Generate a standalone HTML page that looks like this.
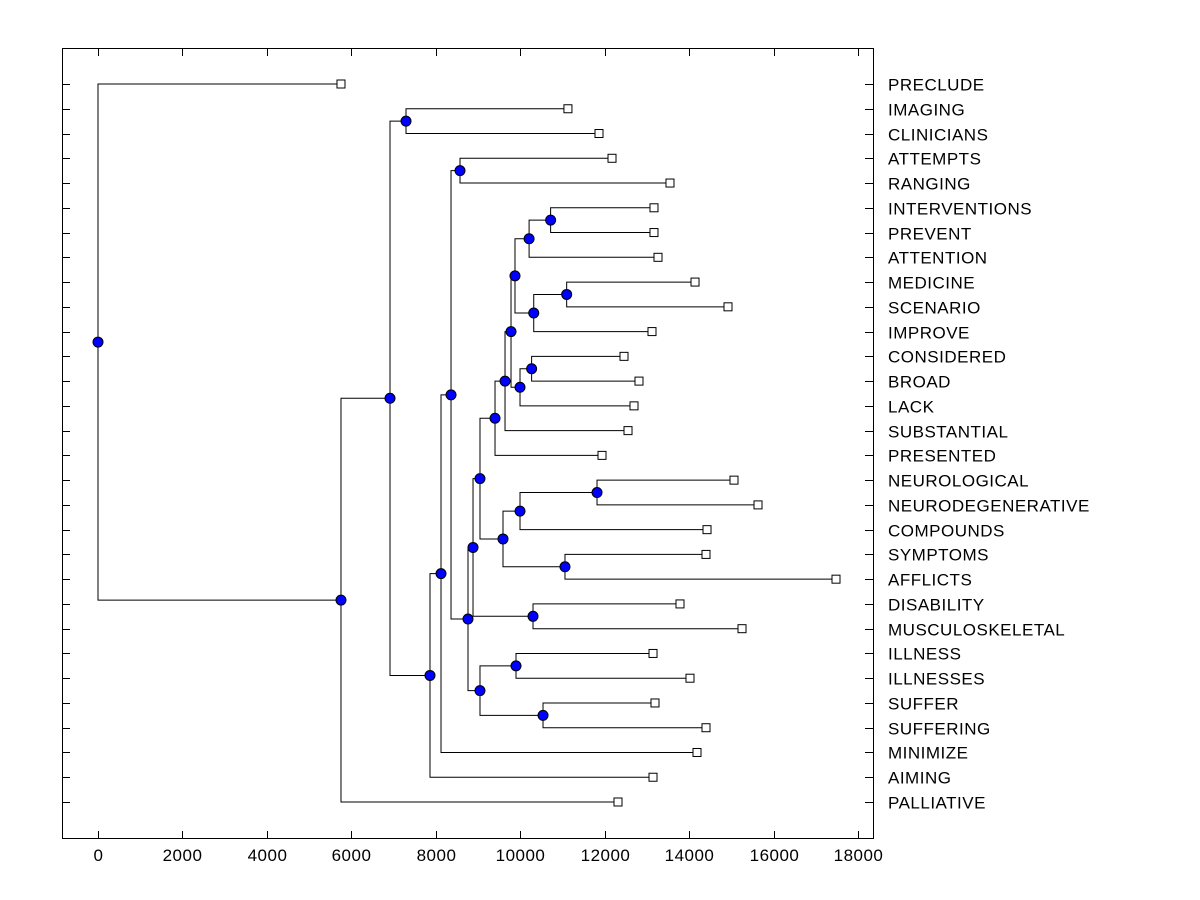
<!DOCTYPE html>
<html><head><meta charset="utf-8"><style>
html,body{margin:0;padding:0;background:#fff;}
svg{display:block;font-family:"Liberation Sans",Arial,sans-serif;}
</style></head><body>
<svg id="chart" width="1200" height="900" viewBox="0 0 1200 900">
<rect x="62.5" y="48.5" width="811" height="790" fill="none" stroke="#000" stroke-width="1"/>
<g id="ticks"></g><g id="links"></g><g id="marks"></g><g id="labels"></g>
</svg>
<script>
const leafNames = ["PRECLUDE","IMAGING","CLINICIANS","ATTEMPTS","RANGING","INTERVENTIONS","PREVENT","ATTENTION","MEDICINE","SCENARIO","IMPROVE","CONSIDERED","BROAD","LACK","SUBSTANTIAL","PRESENTED","NEUROLOGICAL","NEURODEGENERATIVE","COMPOUNDS","SYMPTOMS","AFFLICTS","DISABILITY","MUSCULOSKELETAL","ILLNESS","ILLNESSES","SUFFER","SUFFERING","MINIMIZE","AIMING","PALLIATIVE"];
const leafValues = [5755,11130,11866,12174,13547,13168,13168,13263,14140,14921,13121,12458,12813,12695,12553,11937,15063,15632,14424,14400,17479,13784,15253,13145,14021,13192,14400,14187,13145,12316];
// internal nodes: [id, height, childA, childB]; children are leaf indices (numbers) or node ids (strings)
const mergeNodes = [
 ["AA",10720,5,6],["W",10210,"AA",7],["Z",11100,8,9],["Y",10320,"Z",10],["V",9876,"W","Y"],
 ["BB",10270,11,12],["X",9995,"BB",13],["U",9782,"V","X"],["T",9640,"U",14],["O",9403,"T",15],
 ["S",11819,16,17],["Q",9995,"S",18],["R",11060,19,20],["P",9592,"Q","R"],["M",9047,"O","P"],
 ["N",10303,21,22],["I",8882,"M","N"],["K",9900,23,24],["L",10540,25,26],["J",9047,"K","L"],
 ["H",8763,"I","J"],["G",8574,3,4],["F",8361,"G","H"],["E",8124,"F",27],["D",7863,"E",28],
 ["C",7295,1,2],["B",6916,"C","D"],["A",5755,"B",29],["ROOT",0,0,"A"]
];
const xTicks = [0,2000,4000,6000,8000,10000,12000,14000,16000,18000];

const NS="http://www.w3.org/2000/svg";
const xs = v => 98 + v*(760/18000);
const ys = i => 84 + i*(718/29);
function mk(tag, attrs, parent){const e=document.createElementNS(NS,tag);for(const k in attrs)e.setAttribute(k,attrs[k]);document.getElementById(parent).appendChild(e);return e;}

xTicks.forEach(t=>{
  const x=Math.round(xs(t))+0.5;
  let e=mk("line",{x1:x,x2:x,y1:831,y2:838,stroke:"#000"},"ticks");
  
  
  e=mk("line",{x1:x,x2:x,y1:49,y2:56,stroke:"#000"},"ticks");
  
  
  const tx=mk("text",{x:x,y:861,"font-size":"17","letter-spacing":"0.5","text-anchor":"middle"},"labels");
  tx.textContent=t;
  
  
});
leafNames.forEach((n,i)=>{
  const y=Math.round(ys(i))+0.5;
  let e=mk("line",{x1:62,x2:70,y1:y,y2:y,stroke:"#000"},"ticks");
  
  
  e=mk("line",{x1:865,x2:873,y1:y,y2:y,stroke:"#000"},"ticks");
  
  
  const t=mk("text",{x:888,y:y+6,"font-size":"17","letter-spacing":"0.5"},"labels");
  t.textContent=n;
  
  
});

const pos={};
function getPos(c){ if(typeof c==="number") return {x:xs(leafValues[c]),y:ys(c)}; return pos[c]; }
mergeNodes.forEach(([id,h,a,b])=>{
  const pa=getPos(a), pb=getPos(b), x=xs(h), y=(pa.y+pb.y)/2;
  pos[id]={x,y};
  const l=mk("polyline",{points:`${pa.x},${pa.y} ${x},${pa.y} ${x},${pb.y} ${pb.x},${pb.y}`,fill:"none",stroke:"#000","stroke-width":"1"},"links");
  
  
});
leafValues.forEach((v,i)=>{
  const r=mk("rect",{x:xs(v)-4,y:ys(i)-4,width:8,height:8,fill:"#fff",stroke:"#000"},"marks");
  
  
});
mergeNodes.forEach(([id])=>{
  const p=pos[id];
  const c=mk("circle",{cx:p.x,cy:p.y,r:5,fill:"#0000ff",stroke:"#000","stroke-width":"1"},"marks");
  
  
});
</script>
</body></html>
